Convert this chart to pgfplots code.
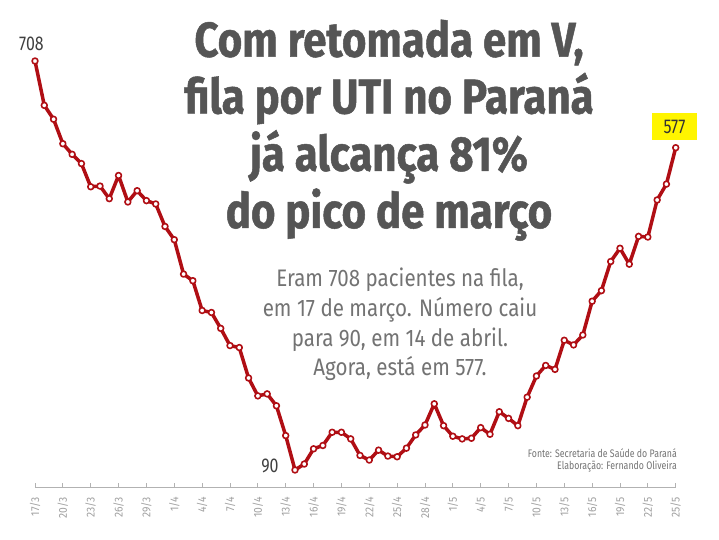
\documentclass[border=0pt]{standalone}
\usepackage{pgfplots}
\usepackage{pgfplotstable}
\pgfplotsset{compat=1.18}
\usepackage{fontspec}
\setmainfont{Fira Sans}
\newfontfamily\titlefont{Fira Sans}[FakeStretch=0.86, FakeBold=1]
\newfontfamily\subfont{Fira Sans}[FakeStretch=0.86]
\newfontfamily\condfont{Fira Sans}[FakeStretch=0.8]
\newfontfamily\tickfont{Fira Sans}[FakeStretch=0.9]
\definecolor{linered}{RGB}{176,14,20}
\definecolor{titlegray}{RGB}{85,85,85}
\definecolor{subgray}{RGB}{115,115,115}
\definecolor{tickgray}{RGB}{160,160,160}
\definecolor{hl}{RGB}{255,245,0}

\pgfplotstableread{
i v
0 708
1 641
2 620
3 583
4 567
5 553
6 518
7 519
8 500
9 535
10 495
11 512
12 497
13 492
14 458
15 438
16 386
17 376
18 331
19 328
20 304
21 278
22 275
23 229
24 202
25 205
26 187
27 142
28 90
29 99
30 122
31 127
32 147
33 147
34 137
35 112
36 105
37 120
38 111
39 110
40 123
41 143
42 158
43 190
44 157
45 141
46 137
47 138
48 154
49 144
50 178
51 168
52 157
53 200
54 232
55 248
56 242
57 286
58 279
59 294
60 345
61 361
62 405
63 425
64 401
65 443
66 442
67 498
68 522
69 577
}\datatable

\begin{document}
\begin{tikzpicture}[x=1bp,y=1bp]
\useasboundingbox[fill=white] (0,0) rectangle (719,540);
\begin{axis}[
  at={(35bp,53bp)}, anchor=south west,
  width=640.7bp, height=487bp, scale only axis,
  xmin=0, xmax=69, ymin=64.3, ymax=800.2,
  axis x line*=bottom, axis y line=none,
  x axis line style={draw=black!30, line width=0.8bp},
  xtick={0,3,...,69},
  xticklabels={17/3,20/3,23/3,26/3,29/3,1/4,4/4,7/4,10/4,13/4,16/4,19/4,22/4,25/4,28/4,1/5,4/5,7/5,10/5,13/5,16/5,19/5,22/5,25/5},
  tick align=inside, major tick length=4bp,
  tick style={draw=black!30, line width=0.8bp},
  xticklabel shift=10bp,
  xticklabel style={rotate=90, anchor=east, inner sep=0pt,
    font=\tickfont\fontsize{11.5}{11.5}\selectfont, text=tickgray},
  ytick=\empty,
  clip=false,
]
\addplot[linered, line width=3.5bp, line join=round,
  mark=*, mark size=2.9bp, mark options={fill=white, draw=linered, line width=1.6bp, solid}]
  table[x=i, y=v]{\datatable};
\end{axis}

% title
\begin{scope}[every node/.style={anchor=base, inner sep=0pt, text=titlegray,
    font=\titlefont\bfseries\fontsize{49}{57}\selectfont}]
\node at (389,483.3) {Com retomada em V,};
\node at (389,426.5) {fila por UTI no Paraná};
\node at (389,369.2) {já alcança 81\%};
\node at (389,312) {do pico de março};
\end{scope}

% subtitle
\begin{scope}[every node/.style={anchor=base, inner sep=0pt, text=subgray,
    font=\subfont\fontsize{24}{29}\selectfont}]
\node at (400,253.3) {Eram 708 pacientes na fila,};
\node at (400,223.5) {em 17 de março. Número caiu};
\node at (400,193.5) {para 90, em 14 de abril.};
\node at (400,164.5) {Agora, está em 577.};
\end{scope}

% source
\begin{scope}[every node/.style={anchor=base east, inner sep=0pt, text=black!55,
    font=\condfont\fontsize{11}{11}\selectfont}]
\node at (677,82) {Fonte: Secretaria de Saúde do Paraná};
\node at (677,70) {Elaboração: Fernando Oliveira};
\end{scope}

% value labels
\node[text=black!75, font=\condfont\fontsize{20}{20}\selectfont, inner sep=0pt] at (31.5,496.3) {708};
\node[text=black!75, font=\condfont\fontsize{20}{20}\selectfont, inner sep=0pt] at (270,74) {90};
\node[fill=hl, minimum width=45bp, minimum height=27bp, inner sep=0pt,
  text=black!80, font=\condfont\fontsize{20}{20}\selectfont] at (674.5,413.5) {577};
\end{tikzpicture}
\end{document}
